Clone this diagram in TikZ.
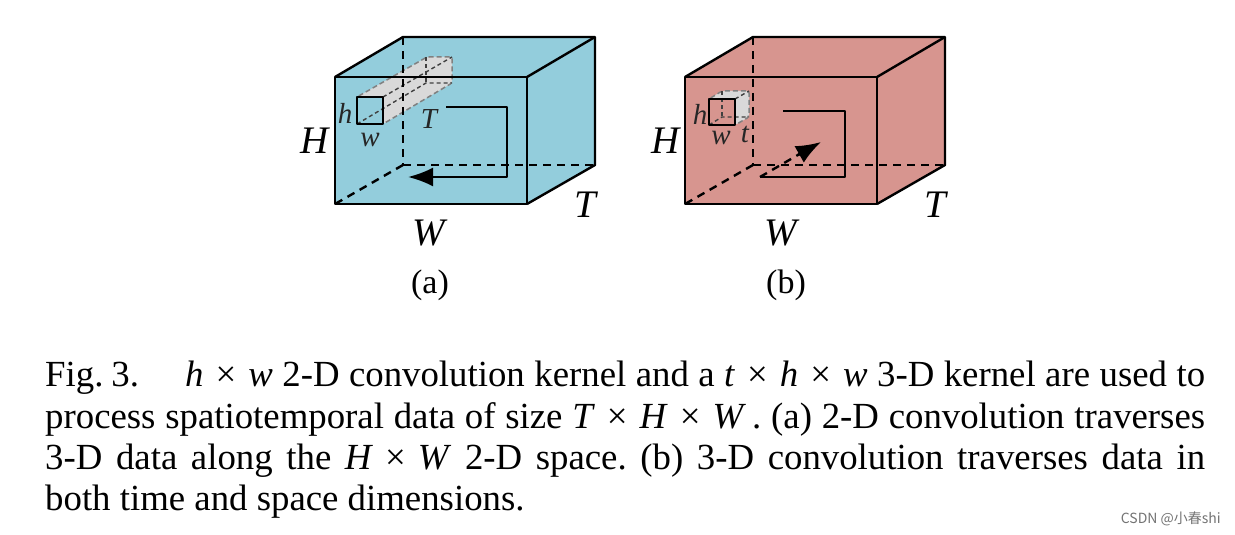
\documentclass[tikz,border=0pt]{standalone}
\usepackage{fontspec}
\setmainfont{Liberation Serif}
\newfontfamily\cjkwm{Noto Sans CJK SC}
\usetikzlibrary{arrows.meta}
\definecolor{cubeblue}{HTML}{93CDDC}
\definecolor{cubered}{HTML}{D7958F}
\definecolor{kernelgray}{HTML}{D9D9D9}
\tikzset{
  edge/.style={line width=2.4pt,black,line join=round},
  hidden/.style={line width=2.4pt,black,dash pattern=on 8pt off 6pt},
  kdash/.style={line width=1.4pt,black!75,dash pattern=on 4pt off 3pt},
  kshape/.style={fill=kernelgray,draw=black!50,line width=1.5pt,dash pattern=on 5pt off 3pt,rounded corners=2pt},
  bigtip/.style={-{Latex[length=25pt,width=19pt]}},
  biglab/.style={font=\fontsize{39}{39}\selectfont\itshape,inner sep=0pt},
  smalllab/.style={font=\fontsize{29}{29}\selectfont\itshape,inner sep=0pt,text=black!85},
  sublab/.style={font=\fontsize{34}{34}\selectfont,inner sep=0pt},
  capline/.style={font=\fontsize{36.8}{36.8}\selectfont,inner sep=0pt,anchor=base west},
}
\newcommand{\capfit}[1]{\makebox[1160pt][s]{\frenchspacing #1}}
\newcommand{\mx}{\hspace{12pt}×\hspace{12pt}}
\begin{document}
\begin{tikzpicture}[x=1pt,y=-1pt]
\useasboundingbox (0,0) rectangle (1235,535);
% --- cube (a)
\fill[cubeblue] (335,77) -- (403,37) -- (595,37) -- (595,165) -- (527,204) -- (335,204) -- cycle;
\draw[kshape] (357,97) -- (427,57) -- (452,57) -- (452,83) -- (383,124) -- cycle;
\fill[cubeblue] (357,97) rectangle (383,124);
\draw[kdash] (357,124) -- (426,83) -- (452,83);
\draw[kdash] (383,97) -- (452,57);
\draw[kdash] (426,57) -- (426,83);
\draw[hidden] (403,37) -- (403,165);
\draw[hidden] (403,165) -- (595,165);
\draw[hidden] (403,165) -- (335,204);
\draw[edge] (335,77) rectangle (527,204);
\draw[edge] (335,77) -- (403,37) -- (595,37) -- (595,165) -- (527,204);
\draw[edge] (527,77) -- (595,37);
\draw[edge] (357,97) rectangle (383,124);
\draw[edge,bigtip] (446,107) -- (507,107) -- (507,177) -- (408,177);
\node[biglab] (Ha) at (315,141) {H};
\node[biglab] (Wa) at (429,233) {W};
\node[biglab] (Ta) at (585,205) {T};
\node[smalllab] (ha) at (345,113) {h};
\node[smalllab] (wa) at (370,140) {w};
\node[smalllab] (ta) at (429,119) {T};
\node[sublab] (suba) at (430,285) {(a)};
% --- cube (b)
\fill[cubered] (685,77) -- (753,37) -- (945,37) -- (945,165) -- (877,204) -- (685,204) -- cycle;
\draw[kshape] (709,99) -- (722,91) -- (749,91) -- (749,117) -- (735,125) -- cycle;
\fill[cubered] (709,99) rectangle (735,125);
\draw[kdash] (709,125) -- (722,117) -- (749,117);
\draw[kdash] (735,99) -- (749,91);
\draw[kdash] (722,91) -- (722,117);
\draw[hidden] (753,37) -- (753,165);
\draw[hidden] (753,165) -- (945,165);
\draw[hidden] (753,165) -- (685,204);
\draw[edge] (685,77) rectangle (877,204);
\draw[edge] (685,77) -- (753,37) -- (945,37) -- (945,165) -- (877,204);
\draw[edge] (877,77) -- (945,37);
\draw[edge] (709,99) rectangle (735,125);
\draw[edge] (783,111) -- (845,111) -- (845,177) -- (760,177);
\draw[line width=2.4pt,dash pattern=on 8pt off 6pt] (760,177) -- (803,152);
\draw[edge,bigtip] (798,155) -- (821,142);
\node[biglab] (Hb) at (666,141) {H};
\node[biglab] (Wb) at (781,233) {W};
\node[biglab] (Tb) at (935,205) {T};
\node[smalllab] (hb) at (700,114) {h};
\node[smalllab] (wb) at (721,138) {w};
\node[smalllab] (tb) at (745,134) {t};
\node[sublab] (subb) at (786,285) {(b)};
% --- caption
\node[capline] (c1) at (45,386) {\capfit{\makebox[140pt][l]{Fig.\kern8pt3.}\textit{h}\mx\textit{w} 2-D convolution kernel and a \textit{t}\mx\textit{h}\mx\textit{w} 3-D kernel are used to}};
\node[capline] (c2) at (45,428) {\capfit{process spatiotemporal data of size \textit{T}\mx\textit{H}\mx\textit{W}\,. (a) 2-D convolution traverses}};
\node[capline] (c3) at (45,469) {\capfit{3-D data along the \textit{H}\mx\textit{W} 2-D space. (b) 3-D convolution traverses data in}};
\node[capline] (c4) at (45,510) {both time and space dimensions.};
\node[font={\fontsize{14}{14}\selectfont\cjkwm},text=black!55,inner sep=0pt,anchor=east] (wm) at (1221,519) {CSDN @小春shi};
\end{tikzpicture}
\end{document}
